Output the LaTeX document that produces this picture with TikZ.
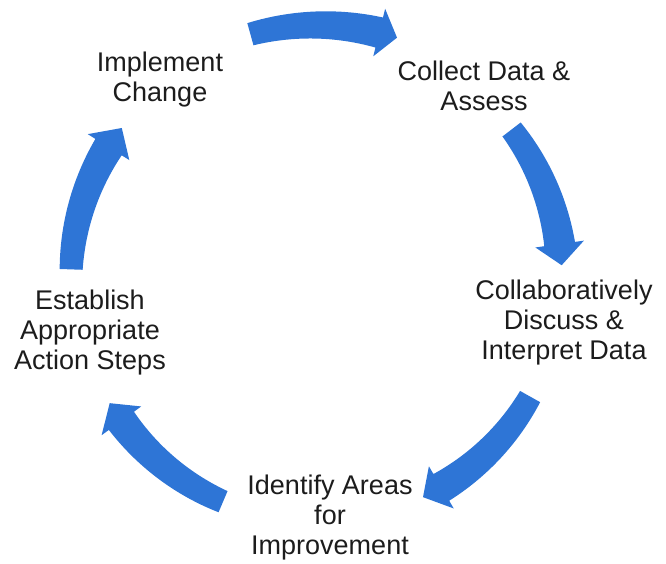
\documentclass[tikz,border=0pt]{standalone}
\usepackage{fontspec}
\setmainfont{Liberation Sans}
\definecolor{cycleblue}{RGB}{46,117,214}
\definecolor{labelgray}{RGB}{28,28,28}
\tikzset{
  steplabel/.style={align=center, text=labelgray, inner sep=0pt,
    font=\fontsize{27}{30}\selectfont},
  cyclefill/.style={fill=cycleblue}
}
% Curved arrow around the cycle centre:
% #1 radius, #2 tail angle, #3 head base angle, #4 tip angle.
% The shaft widens from 23 at the tail to 31 at the head base.
\newcommand{\cyclearrow}[4]{%
  \fill[cyclefill]
    plot[domain=#2:#3, samples=40] ({\x}:{#1 - (11.5 + 4*(\x-(#2))/((#3)-(#2)))})
    -- ({#3}:{#1-24.5}) -- ({#4}:{#1}) -- ({#3}:{#1+24.5})
    -- plot[domain=#3:#2, samples=40] ({\x}:{#1 + (11.5 + 4*(\x-(#2))/((#3)-(#2)))})
    -- cycle;
}
\begin{document}
\begin{tikzpicture}[x=1pt, y=1pt]
  \useasboundingbox (0,0) rectangle (666,-563);

  % step labels
  \node[steplabel] (implement) at (160,-80)   {Implement\\Change};
  \node[steplabel] (collect)   at (484,-85.5) {Collect Data \&\\Assess};
  \node[steplabel] (discuss)   at (564,-323)  {Collaboratively\\Discuss \&\\Interpret Data};
  \node[steplabel] (identify)  at (330,-518)  {Identify Areas\\for\\Improvement};
  \node[steplabel] (establish) at (90,-333)   {Establish\\Appropriate\\Action Steps};

  % cycle arrows
  \begin{scope}[shift={(318,-278)}]
    \cyclearrow{253}{105.5}{76}{71.8}
    \cyclearrow{244}{37.5}{8}{3}
    \cyclearrow{243}{-29.2}{-59.5}{-64.4}
    \cyclearrow{243}{-113}{-144}{-149}
    \cyclearrow{247}{178}{148}{142.6}
  \end{scope}
\end{tikzpicture}
\end{document}
